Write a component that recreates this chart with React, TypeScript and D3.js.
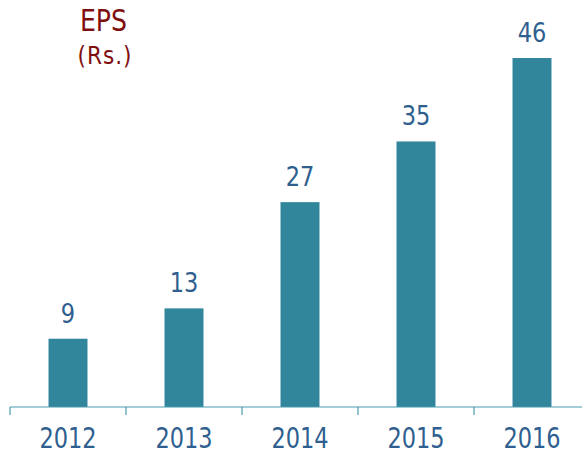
import { useEffect, useRef } from "react";
import * as d3 from "d3";

const years = ["2012", "2013", "2014", "2015", "2016"];
const eps = [9, 13, 27, 35, 46];

const FONT = "DejaVu Sans Condensed, DejaVu Sans, sans-serif";

export default function App() {
    const svgRef = useRef<SVGSVGElement | null>(null);

    useEffect(() => {
        if (!svgRef.current) return;
        const svg = d3.select(svgRef.current);
        svg.selectAll("*").remove();

        const left = 10, right = 590, base = 407;
        const x = d3.scaleBand().domain(years).range([left, right]).paddingInner(0.664).paddingOuter(0.332);
        const y = d3.scaleLinear().domain([0, 46]).range([base, 58]);
        const tickX = d3.scaleBand().domain(years).range([left, right]);

        // bars
        svg.selectAll("rect.bar")
            .data(eps)
            .enter()
            .append("rect")
            .attr("class", "bar")
            .attr("x", (d, i) => x(years[i])!)
            .attr("y", d => y(d))
            .attr("width", x.bandwidth())
            .attr("height", d => base - y(d))
            .attr("fill", "#31869b");

        // value labels
        svg.selectAll("text.val")
            .data(eps)
            .enter()
            .append("text")
            .attr("transform", (d, i) => `translate(${x(years[i])! + x.bandwidth() / 2},${y(d) - 16}) scale(1,1.08)`)
            .attr("text-anchor", "middle")
            .attr("font-family", FONT)
            .attr("font-size", 25)
            .attr("fill", "#2f5f8f")
            .text(d => d);

        // axis line + ticks
        svg.append("line")
            .attr("x1", left).attr("x2", 582)
            .attr("y1", base).attr("y2", base)
            .attr("stroke", "#4a9bb0").attr("stroke-width", 1.2);
        const ticks = years.map(yr => tickX(yr)!);
        svg.selectAll("line.tick")
            .data(ticks)
            .enter()
            .append("line")
            .attr("x1", d => d).attr("x2", d => d)
            .attr("y1", base).attr("y2", base + 8)
            .attr("stroke", "#4a9bb0").attr("stroke-width", 1.2);

        // category labels
        svg.selectAll("text.cat")
            .data(years)
            .enter()
            .append("text")
            .attr("transform", d => `translate(${x(d)! + x.bandwidth() / 2},448) scale(1,1.12)`)
            .attr("text-anchor", "middle")
            .attr("font-family", FONT)
            .attr("font-size", 25)
            .attr("fill", "#2f5f8f")
            .text(d => d);

        // title
        svg.append("text")
            .attr("transform", "translate(103.5,31) scale(1,1.05)")
            .attr("text-anchor", "middle")
            .attr("font-family", FONT)
            .attr("font-size", 28)
            .attr("fill", "#7f0f0f")
            .text("EPS");
        svg.append("text")
            .attr("x", 105).attr("y", 64)
            .attr("text-anchor", "middle")
            .attr("font-family", FONT)
            .attr("font-size", 24)
            .attr("letter-spacing", 1)
            .attr("fill", "#7f0f0f")
            .text("(Rs.)");
    }, []);

    return (
        <svg ref={svgRef} width={584} height={455}
            style={{ position: "absolute", left: 0, top: 0 }} />
    );
}
